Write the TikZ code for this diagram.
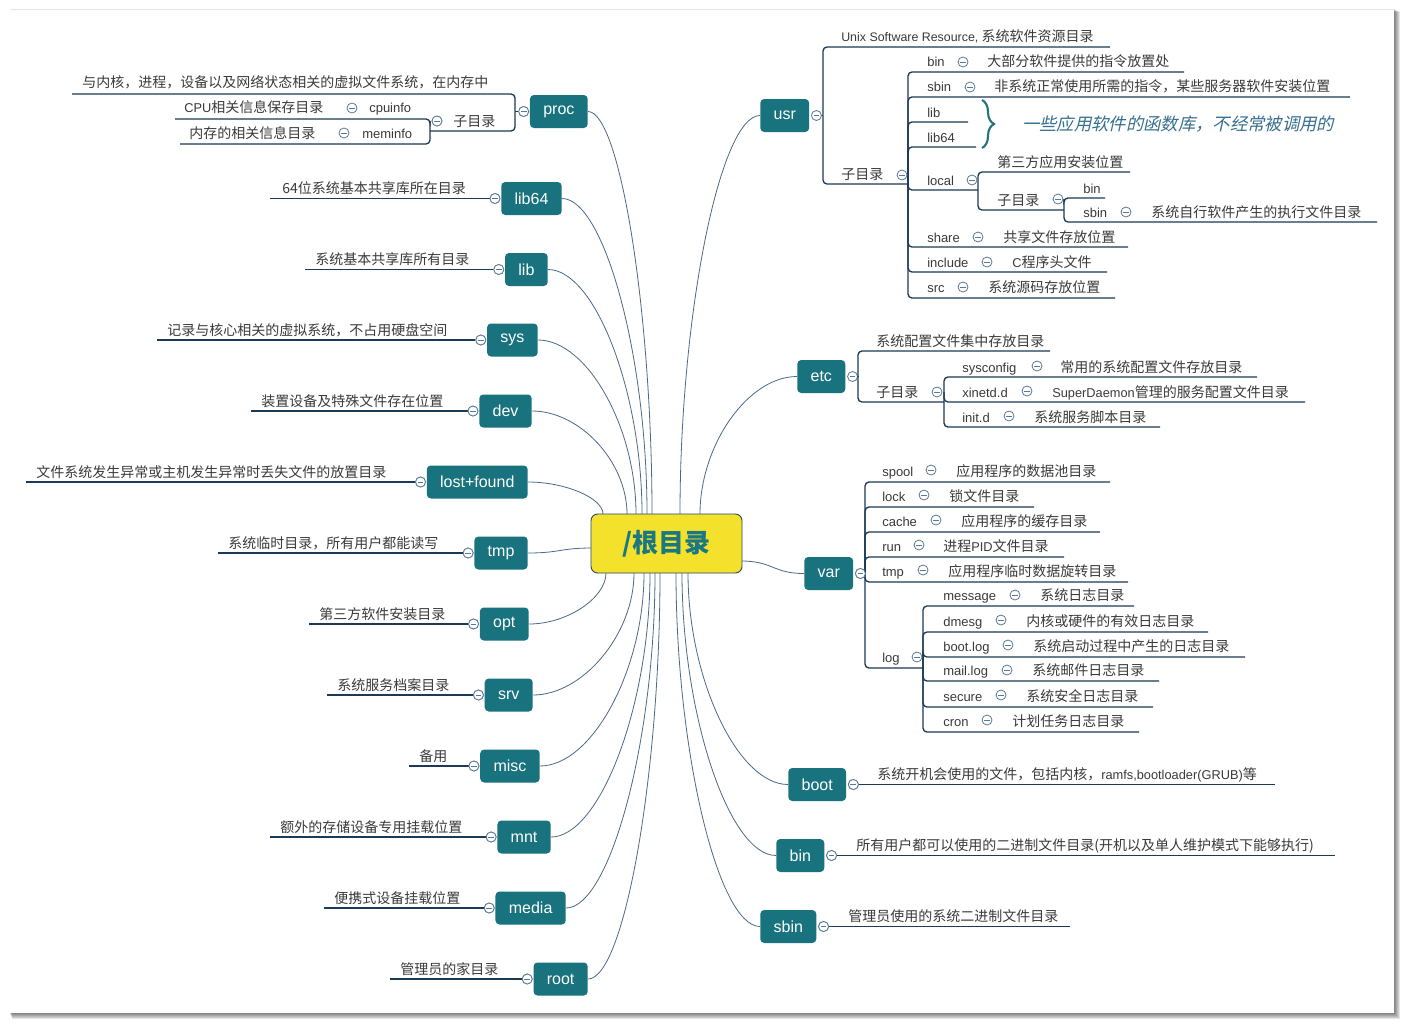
\documentclass[tikz,border=0pt]{standalone}
\usepackage{fontspec}
\setmainfont{Noto Sans CJK SC}
\newfontfamily\lat{Liberation Sans}
\newfontfamily\cjkit[FakeSlant=0.22]{Noto Sans CJK SC}
\usetikzlibrary{decorations.pathreplacing}
\definecolor{boxc}{HTML}{18737E}
\definecolor{rootc}{HTML}{F4E12C}
\definecolor{rootb}{HTML}{284864}
\definecolor{roott}{HTML}{1B7882}
\definecolor{ulc}{HTML}{1C3A55}
\definecolor{crvc}{HTML}{4B6A86}
\definecolor{circc}{HTML}{5A7895}
\definecolor{txt}{HTML}{3A3A3A}
\definecolor{bracec}{HTML}{26747E}
\definecolor{itc}{HTML}{356F8E}
\newcommand\lt[1]{{\lat\fontsize{9.6}{12}\selectfont #1}}
\begin{document}
\begin{tikzpicture}[x=0.75pt,y=-0.75pt,
 box/.style={fill=boxc, rounded corners=3pt, text=white, font=\lat\fontsize{12}{14}\selectfont, inner xsep=10pt, inner ysep=0pt, minimum height=24.75pt},
 dsc/.style={text=txt, font=\fontsize{10.5}{12}\selectfont, inner sep=0pt, anchor=base west},
 lbl/.style={text=txt, font=\lat\fontsize{9.75}{11}\selectfont, inner sep=0pt, anchor=base west},
 ul/.style={draw=ulc, line width=1pt, rounded corners=3pt},
 crv/.style={draw=crvc, line width=0.6pt},
 cir/.style={circle, draw=circc, fill=white, line width=0.6pt, minimum size=7.5pt, inner sep=0pt,
   path picture={\draw[circc,line width=0.6pt] ([xshift=-2.2pt]path picture bounding box.center) -- ([xshift=2.2pt]path picture bounding box.center);}}]
\useasboundingbox (0,0) rectangle (1405,1024);
% page with shadow
\foreach \i in {1,...,6} \fill[black,opacity=0.1] (9+\i*0.5,9+\i*0.5) rectangle (1394+\i,1013+\i);
\fill[white] (10,10) rectangle (1394,1013);

% ---------- main boxes ----------
\node[box, anchor=east] (proc) at (588,111.5) {proc};
\node[box, anchor=east] (lib64) at (562,198.5) {lib64};
\node[box, anchor=east] (lib) at (548,269.5) {lib};
\node[box, anchor=east] (sys) at (538,340) {sys};
\node[box, anchor=east] (dev) at (532,411) {dev};
\node[box, anchor=east] (lf) at (528,482) {lost+found};
\node[box, anchor=east] (tmp) at (528,553) {tmp};
\node[box, anchor=east] (opt) at (529,624) {opt};
\node[box, anchor=east] (srv) at (533,695) {srv};
\node[box, anchor=east] (misc) at (540,766) {misc};
\node[box, anchor=east] (mnt) at (551,837) {mnt};
\node[box, anchor=east] (media) at (566,908) {media};
\node[box, anchor=east] (rootd) at (588,979) {root};
\node[box, anchor=west] (usr) at (760,115.5) {usr};
\node[box, anchor=west] (etc) at (797,376.5) {etc};
\node[box, anchor=west] (var) at (804,573.5) {var};
\node[box, anchor=west] (boot) at (788,784.5) {boot};
\node[box, anchor=west] (bin) at (776,855.5) {bin};
\node[box, anchor=west] (sbin) at (760,926.5) {sbin};

% ---------- curves to root ----------
\coordinate (eproc) at (652,514);
\coordinate (elib64) at (647,514);
\coordinate (elib) at (642,514);
\coordinate (esys) at (636,514);
\coordinate (edev) at (627,514);
\coordinate (elf) at (603,514);
\coordinate (etmp) at (592,548);
\coordinate (eopt) at (606,573);
\coordinate (esrv) at (634,573);
\coordinate (emisc) at (644,573);
\coordinate (emnt) at (650,573);
\coordinate (emedia) at (655,573);
\coordinate (eroot) at (660,573);
\coordinate (eusr) at (680,514);
\coordinate (eetc) at (700,514);
\coordinate (evar) at (741,561);
\coordinate (eboot) at (688,573);
\coordinate (ebin) at (682,573);
\coordinate (esbin) at (676,573);
\draw[crv] (proc.east) .. controls (620,111.5) and (652,313) .. (eproc);
\draw[crv] (lib64.east) .. controls (604,198.5) and (647,356) .. (elib64);
\draw[crv] (lib.east) .. controls (595,269.5) and (642,392) .. (elib);
\draw[crv] (sys.east) .. controls (587,340) and (636,427) .. (esys);
\draw[crv] (dev.east) .. controls (580,411) and (627,462) .. (edev);
\draw[crv] (lf.east) .. controls (565,482) and (603,498) .. (elf);
\draw[crv] (tmp.east) .. controls (560,553) and (560,548) .. (etmp);
\draw[crv] (opt.east) .. controls (567,624) and (606,598) .. (eopt);
\draw[crv] (srv.east) .. controls (583,695) and (634,634) .. (esrv);
\draw[crv] (misc.east) .. controls (592,766) and (644,670) .. (emisc);
\draw[crv] (mnt.east) .. controls (600,837) and (650,705) .. (emnt);
\draw[crv] (media.east) .. controls (610,908) and (655,740) .. (emedia);
\draw[crv] (rootd.east) .. controls (624,979) and (660,776) .. (eroot);
\draw[crv] (usr.west) .. controls (720,115.5) and (680,315) .. (eusr);
\draw[crv] (etc.west) .. controls (748,376.5) and (700,445) .. (eetc);
\draw[crv] (var.west) .. controls (773,573.5) and (773,561) .. (evar);
\draw[crv] (boot.west) .. controls (738,784.5) and (688,679) .. (eboot);
\draw[crv] (bin.west) .. controls (729,855.5) and (682,714) .. (ebin);
\draw[crv] (sbin.west) .. controls (718,926.5) and (676,750) .. (esbin);

% root node
\node[draw=rootb, line width=0.7pt, fill=rootc, rounded corners=5pt, minimum width=113.25pt, minimum height=44.25pt, text=roott, font=\fontsize{19.5}{22}\selectfont\bfseries] (root) at (666.5,543.5) {/根目录};

% ---------- left leaves ----------
\coordinate (ulib64) at (270,198.5);
\coordinate (ulib) at (305,269.5);
\coordinate (usys) at (157,340);
\coordinate (udev) at (251,411);
\coordinate (ulf) at (26,482);
\coordinate (utmp) at (218,553);
\coordinate (uopt) at (309,624);
\coordinate (usrv) at (327,695);
\coordinate (umisc) at (409,766);
\coordinate (umnt) at (270,837);
\coordinate (umedia) at (324,908);
\coordinate (uroot) at (390,979);
\foreach \b in {lib64,lib,sys,dev,lf,tmp,opt,srv,misc,mnt,media}{
  \node[cir] (c\b) at ([xshift=-4.5pt]\b.west) {};
  \draw[ul] (c\b.west) -- (u\b);
  \node[cir] at (c\b) {};
}
\node[cir] (crootd) at ([xshift=-4.5pt]rootd.west) {};
\draw[ul] (crootd.west) -- (uroot);
\node[cir] (crootd2) at (crootd) {};
\node[dsc] (tlib64) at (282,193) {64位系统基本共享库所在目录};
\node[dsc] (tlib) at (315,264) {系统基本共享库所有目录};
\node[dsc] (tsys) at (167,335) {记录与核心相关的虚拟系统，不占用硬盘空间};
\node[dsc] (tdev) at (261,406) {装置设备及特殊文件存在位置};
\node[dsc] (tlf) at (36,477) {文件系统发生异常或主机发生异常时丢失文件的放置目录};
\node[dsc] (ttmp) at (228,548) {系统临时目录，所有用户都能读写};
\node[dsc] (topt) at (319,619) {第三方软件安装目录};
\node[dsc] (tsrv) at (337,690) {系统服务档案目录};
\node[dsc] (tmisc) at (419,761) {备用};
\node[dsc] (tmnt) at (280,832) {额外的存储设备专用挂载位置};
\node[dsc] (tmedia) at (334,903) {便携式设备挂载位置};
\node[dsc] (troot) at (400,974) {管理员的家目录};

% ---------- proc subtree ----------
\node[cir] (cproc) at ([xshift=-4.5pt]proc.west) {};
\draw[ul] (cproc.west) -- (515,111.5);
\draw[ul] (515,111.5) |- (72,94);
\draw[ul] (515,111.5) |- (430,131);
\node[cir] at (cproc) {};
\node[dsc] (tproc) at (82,88) {与内核，进程，设备以及网络状态相关的虚拟文件系统，在内存中};
\node[dsc] (tpsub) at (453,126) {子目录};
\node[cir] (cpsub) at (437,121) {};
\draw[ul] (430,121) |- (175,119);
\draw[ul] (430,121) |- (180,144);
\node[cir] at (cpsub) {};
\node[lbl] (lcpu) at (369,113) {cpuinfo};
\node[cir] (ccpu) at (352,108) {};
\node[dsc] (tcpu) at (184,113) {\lt{CPU}相关信息保存目录};
\node[lbl] (lmem) at (362,138) {meminfo};
\node[cir] (cmem) at (344,133) {};
\node[dsc] (tmem) at (189,138) {内存的相关信息目录};

% ---------- usr subtree ----------
\node[cir] (cusr) at ([xshift=5.25pt]usr.east) {};
\draw[ul] (cusr.east) -- (823,115.5);
\draw[ul] (823,115.5) |- (1110,47);
\draw[ul] (823,115.5) |- (908,184);
\node[dsc] (tusr) at (841,42) {{\lat\fontsize{9.3}{12}\selectfont Unix Software Resource,} 系统软件资源目录};
\node[dsc] (tusub) at (841,179) {子目录};
\draw[ul] (908,175) |- (1184,72);
\draw[ul] (908,175) |- (1350,97);
\draw[ul] (908,175) |- (968,122);
\draw[ul] (908,175) |- (976,147);
\draw[ul] (908,175) |- (978,190);
\draw[ul] (908,175) |- (1128,247);
\draw[ul] (908,175) |- (1107,272);
\draw[ul] (908,175) |- (1115,298);
\node[cir] (cusub) at (902,175) {};
\node[lbl] (lubin) at (927,67) {bin};
\node[cir] (cubin) at (963,62) {};
\node[dsc] (tubin) at (987,67) {大部分软件提供的指令放置处};
\node[lbl] (lusbin) at (927,92) {sbin};
\node[cir] (cusbin) at (970,87) {};
\node[dsc] (tusbin) at (994,92) {非系统正常使用所需的指令，某些服务器软件安装位置};
\node[lbl] (lulib) at (927,117) {lib};
\node[lbl] (lulib64) at (927,142) {lib64};
\draw[bracec, line width=1.6pt, decorate, decoration={brace, amplitude=9pt}] (982,100) -- (982,148);
\node[inner sep=0pt, anchor=base west, text=itc, font=\cjkit\fontsize{13}{15}\selectfont] (tulib) at (1022,130) {一些应用软件的函数库，不经常被调用的};
\node[lbl] (lulocal) at (927,185) {local};
\draw[ul] (978,180) |- (1130,172);
\draw[ul] (978,180) |- (1064,210);
\node[cir] (culocal) at (972,180) {};
\node[dsc] (tulocal) at (997,167) {第三方应用安装位置};
\node[dsc] (tlsub) at (997,205) {子目录};
\draw[ul] (1064,199) |- (1105,198);
\draw[ul] (1064,199) |- (1377,222);
\node[cir] (clsub) at (1058,199) {};
\node[lbl] (llbin) at (1083,193) {bin};
\node[lbl] (llsbin) at (1083,217) {sbin};
\node[cir] (cllsbin) at (1126,212) {};
\node[dsc] (tllsbin) at (1151,217) {系统自行软件产生的执行文件目录};
\node[lbl] (lushare) at (927,242) {share};
\node[cir] (cushare) at (978,237) {};
\node[dsc] (tushare) at (1003,242) {共享文件存放位置};
\node[lbl] (luinc) at (927,267) {include};
\node[cir] (cuinc) at (987,262) {};
\node[dsc] (tuinc) at (1012,267) {\lt{C}程序头文件};
\node[lbl] (lusrc) at (927,292) {src};
\node[cir] (cusrc) at (963,287) {};
\node[dsc] (tusrc) at (988,292) {系统源码存放位置};

% ---------- etc subtree ----------
\node[cir] (cetc) at ([xshift=5.25pt]etc.east) {};
\draw[ul] (cetc.east) -- (858,376.5);
\draw[ul] (858,376.5) |- (1050,351);
\draw[ul] (858,376.5) |- (944,402);
\node[dsc] (tetc) at (876,346) {系统配置文件集中存放目录};
\node[dsc] (tesub) at (876,397) {子目录};
\draw[ul] (944,392) |- (1257,377);
\draw[ul] (944,392) |- (1305,402);
\draw[ul] (944,392) |- (1160,427);
\node[cir] (cesub) at (937,392) {};
\node[lbl] (lsyscfg) at (962,372) {sysconfig};
\node[cir] (csyscfg) at (1037,366) {};
\node[dsc] (tsyscfg) at (1060,372) {常用的系统配置文件存放目录};
\node[lbl] (lxinet) at (962,397) {xinetd.d};
\node[cir] (cxinet) at (1027,391) {};
\node[dsc] (txinet) at (1052,397) {\lt{SuperDaemon}管理的服务配置文件目录};
\node[lbl] (linit) at (962,422) {init.d};
\node[cir] (cinit) at (1009,416) {};
\node[dsc] (tinit) at (1034,422) {系统服务脚本目录};

% ---------- var subtree ----------
\node[cir] (cvar) at ([xshift=5.25pt]var.east) {};
\draw[ul] (cvar.east) -- (865,573.5);
\draw[ul] (865,573.5) |- (1110,482);
\draw[ul] (865,573.5) |- (1034,507);
\draw[ul] (865,573.5) |- (1100,532);
\draw[ul] (865,573.5) |- (1064,557);
\draw[ul] (865,573.5) |- (1128,582);
\draw[ul] (865,573.5) |- (923,668);
\node[lbl] (lspool) at (882,476) {spool};
\node[cir] (cspool) at (931,470) {};
\node[dsc] (tspool) at (956,476) {应用程序的数据池目录};
\node[lbl] (llock) at (882,501) {lock};
\node[cir] (clock) at (924,495) {};
\node[dsc] (tlock) at (949,501) {锁文件目录};
\node[lbl] (lcache) at (882,526) {cache};
\node[cir] (ccache) at (936,520) {};
\node[dsc] (tcache) at (961,526) {应用程序的缓存目录};
\node[lbl] (lrun) at (882,551) {run};
\node[cir] (crun) at (919,545) {};
\node[dsc] (trun) at (943,551) {进程\lt{PID}文件目录};
\node[lbl] (lvtmp) at (882,576) {tmp};
\node[cir] (cvtmp) at (923,570) {};
\node[dsc] (tvtmp) at (948,576) {应用程序临时数据旋转目录};
\node[lbl] (llog) at (882,662) {log};
\draw[ul] (923,657) |- (1134,606);
\draw[ul] (923,657) |- (1208,632);
\draw[ul] (923,657) |- (1245,657);
\draw[ul] (923,657) |- (1159,681);
\draw[ul] (923,657) |- (1153,707);
\draw[ul] (923,657) |- (1139,732);
\node[cir] (clog) at (917,657) {};
\node[lbl] (lmsg) at (943,600) {message};
\node[cir] (cmsg) at (1015,595) {};
\node[dsc] (tmsg) at (1040,600) {系统日志目录};
\node[lbl] (ldmesg) at (943,626) {dmesg};
\node[cir] (cdmesg) at (1001,620) {};
\node[dsc] (tdmesg) at (1026,626) {内核或硬件的有效日志目录};
\node[lbl] (lbootlog) at (943,651) {boot.log};
\node[cir] (cbootlog) at (1008,645) {};
\node[dsc] (tbootlog) at (1033,651) {系统启动过程中产生的日志目录};
\node[lbl] (lmail) at (943,675) {mail.log};
\node[cir] (cmail) at (1007,670) {};
\node[dsc] (tmail) at (1032,675) {系统邮件日志目录};
\node[lbl] (lsecure) at (943,701) {secure};
\node[cir] (csecure) at (1001,695) {};
\node[dsc] (tsecure) at (1026,701) {系统安全日志目录};
\node[lbl] (lcron) at (943,726) {cron};
\node[cir] (ccron) at (987,720) {};
\node[dsc] (tcron) at (1012,726) {计划任务日志目录};
\node[cir] at (cvar) {};

% ---------- boot / bin / sbin ----------
\node[cir] (cboot) at ([xshift=5.25pt]boot.east) {};
\draw[ul] (cboot.east) -- (1275,784.5);
\node[cir] at (cboot) {};
\node[dsc] (tboot) at (877,779) {系统开机会使用的文件，包括内核，\lt{ramfs,bootloader(GRUB)}等};
\node[cir] (cbin) at ([xshift=5.25pt]bin.east) {};
\draw[ul] (cbin.east) -- (1335,855.5);
\node[cir] at (cbin) {};
\node[dsc] (tbin) at (856,850) {所有用户都可以使用的二进制文件目录(开机以及单人维护模式下能够执行)};
\node[cir] (csbin) at ([xshift=5.25pt]sbin.east) {};
\draw[ul] (csbin.east) -- (1070,926.5);
\node[cir] at (csbin) {};
\node[dsc] (tsbin) at (848,921) {管理员使用的系统二进制文件目录};
\end{tikzpicture}
\end{document}
